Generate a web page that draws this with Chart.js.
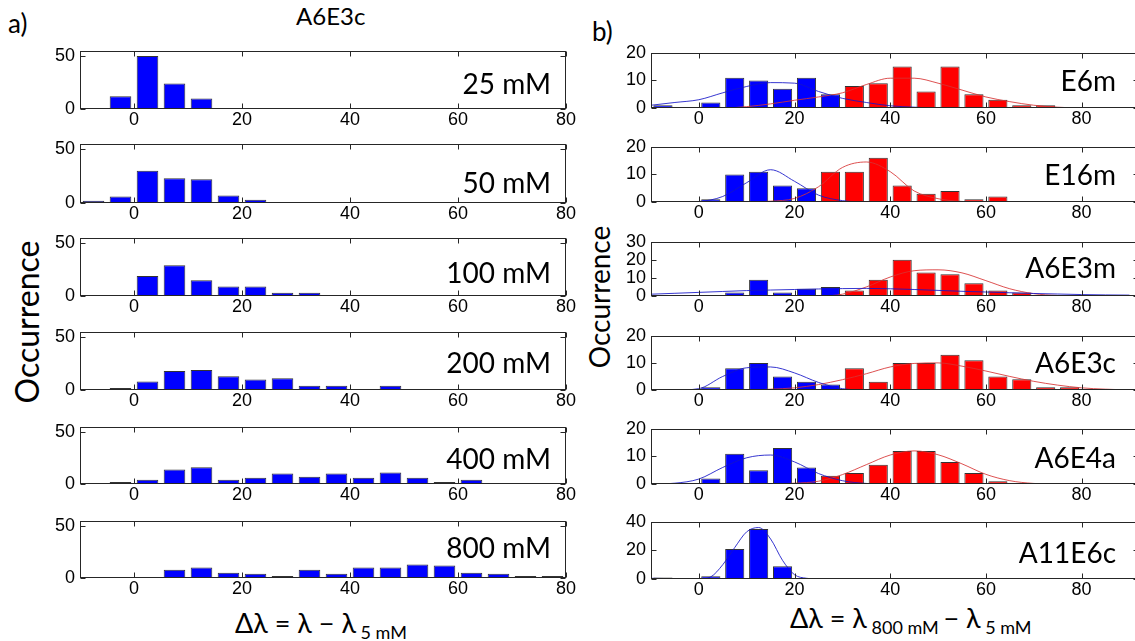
<!DOCTYPE html>
<html>
<head>
<meta charset="utf-8">
<script src="https://cdn.jsdelivr.net/npm/chart.js@4.4.0/dist/chart.umd.min.js"></script>
<style>
html, body { margin: 0; padding: 0; background: #fff; overflow: hidden; }
#fig { position: relative; width: 1135px; height: 641px; overflow: hidden; background: #fff; }
#fig canvas { position: absolute; }
.t { position: absolute; font-family: Lato, sans-serif; color: #000; white-space: nowrap; line-height: 1; }
.lab { font-size: 28px; transform: translate(-100%, -50%); }
sub { font-size: 18px; vertical-align: -6px; }
</style>
</head>
<body>
<div id="fig">
  <div class="t" style="left:8px;top:10px;font-size:26px;">a)</div>
  <div class="t" style="left:296px;top:4px;font-size:24px;">A6E3c</div>
  <div class="t" style="left:592px;top:18px;font-size:26px;">b)</div>
  <div class="t" style="left:27px;top:322px;font-size:32px;transform:translate(-50%,-50%) rotate(-90deg);">Occurrence</div>
  <div class="t" style="left:599px;top:297px;font-size:28px;transform:translate(-50%,-50%) rotate(-90deg);">Occurrence</div>
  <div class="t" style="left:235px;top:609px;font-size:27px;">Δλ = λ − λ<sub>&nbsp;5 mM</sub></div>
  <div class="t" style="left:790px;top:604px;font-size:27px;">Δλ = λ<sub>&nbsp;800 mM&nbsp;</sub>− λ<sub>&nbsp;5 mM</sub></div>
</div>
<script>
// left column: concentration series, 5 nm bins
var leftBins = [-7.5, -2.5, 2.5, 7.5, 12.5, 17.5, 22.5, 27.5, 32.5, 37.5, 42.5, 47.5, 52.5, 57.5, 62.5, 67.5, 72.5, 77.5];
var leftNames = ['25 mM', '50 mM', '100 mM', '200 mM', '400 mM', '800 mM'];
var c25  = [0, 12, 50, 24, 10, 0, 0, 0, 0, 0, 0, 0, 0, 0, 0, 0, 0, 0];
var c50  = [2, 6, 30, 23, 22, 7, 3, 1, 0, 0, 0, 0, 0, 0, 0, 0, 0, 0];
var c100 = [0.5, 0.5, 19, 29, 15, 9, 9, 3, 3, 0.5, 0.5, 0, 0, 0, 0, 0, 0, 0];
var c200 = [0, 2, 8, 18, 19, 13, 10, 11, 4, 4, 0.5, 4, 0, 0.5, 0, 0, 0, 0];
var c400 = [0, 2, 4, 14, 16, 4, 6, 10, 7, 10, 6, 11, 6, 2, 4, 0, 0, 0];
var c800 = [0, 0, 1, 8, 10, 5, 4, 2, 8, 4, 10, 10, 13, 12, 5, 4, 2, 2];

// right column: constructs, blue = first population, red = second
var rightBins = [-7.5, -2.5, 2.5, 7.5, 12.5, 17.5, 22.5, 27.5, 32.5, 37.5, 42.5, 47.5, 52.5, 57.5, 62.5, 67.5, 72.5, 77.5, 82.5, 87.5];
var rightNames = ['E6m', 'E16m', 'A6E3m', 'A6E3c', 'A6E4a', 'A11E6c'];
var e6mBlue    = [1, 0, 2, 11, 10, 7, 11, 5, 0, 0, 0, 0, 0, 0, 0, 0, 0, 0, 0, 0];
var e6mRed     = [0, 0, 0, 0, 0, 0, 0, 0, 8, 9, 15, 6, 15, 5, 3, 1, 1, 0.3, 0, 0];
var e16mBlue   = [0, 0.3, 1, 10, 11, 6, 5, 0, 0, 0, 0, 0, 0, 0, 0, 0, 0, 0, 0, 0];
var e16mRed    = [0, 0, 0, 0, 0, 0, 0, 11, 11, 16, 6, 3, 4, 1, 2, 0, 0, 0, 0, 0];
var a6e3mBlue  = [0, 0, 0, 2, 9, 2, 4, 5, 0, 0, 0, 0, 0, 0, 0, 0, 0, 0, 0, 0];
var a6e3mRed   = [0, 0, 0, 0, 0, 0, 0, 0, 3, 9, 20, 13, 12, 7, 3, 2, 0.5, 0.5, 0, 0];
var a6e3cBlue  = [0, 0.3, 1, 8, 10, 5, 3, 2, 0, 0, 0, 0, 0, 0, 0, 0, 0, 0, 0, 0];
var a6e3cRed   = [0, 0, 0, 0, 0, 0, 0, 0, 8, 3, 10, 10, 13, 11, 5, 4, 1, 1, 0, 0.3];
var a6e4aBlue  = [0, 0, 2, 11, 5, 13, 6, 0, 0, 0, 0, 0, 0, 0, 0, 0, 0, 0, 0, 0];
var a6e4aRed   = [0, 0, 0, 0, 0, 0, 0, 3, 4, 7, 12, 12, 8, 4, 1, 0, 0, 0, 0, 0];
var a11e6cBlue = [1, 0, 2, 21, 35, 9, 0.5, 0.5, 0, 0, 0, 0, 0, 0, 0, 0, 0, 0, 0, 0];

// fitted curves, read every 5 nm from -10 to 90
var fitX       = [-10, -5, 0, 5, 10, 15, 20, 25, 30, 35, 40, 45, 50, 55, 60, 65, 70, 75, 80, 85, 90];
var e6mFitB    = [1, 2, 3, 5.5, 7.8, 9.2, 9, 6, 3.5, 2, 0.8, 0.3, 0, 0, 0, 0, 0, 0, 0, 0, 0];
var e6mFitR    = [0, 0, 0, 0, 0.5, 1.5, 2.8, 4, 5.5, 8.5, 10.8, 10.8, 9, 6.5, 4, 2.3, 1, 0.3, 0, 0, 0];
var e16mFitB   = [0, 0, 0.2, 2, 7, 11.7, 7.5, 2.5, 0.5, 0, 0, 0, 0, 0, 0, 0, 0, 0, 0, 0, 0];
var e16mFitR   = [0, 0, 0, 0, 0, 0.3, 1.3, 5.5, 12.5, 14.5, 11, 4, 1.2, 0.2, 0, 0, 0, 0, 0, 0, 0];
var a6e3mFitB  = [1, 1.5, 2, 2.5, 3, 3.3, 3.6, 3.9, 4.1, 4.2, 4, 3.6, 3.1, 2.6, 2.2, 1.8, 1.4, 1.1, 0.8, 0.6, 0.5];
var a6e3mFitR  = [0, 0, 0, 0, 0, 0, 0, 0, 1, 5, 10.5, 14, 14.5, 12.8, 8.5, 4, 1.3, 0.3, 0, 0, 0];
var a6e3cFitB  = [0, 0, 0.5, 5, 8.2, 8.5, 6.3, 2.8, 0.5, 0, 0, 0, 0, 0, 0, 0, 0, 0, 0, 0, 0];
var a6e3cFitR  = [0, 0, 0, 0, 0, 0.3, 0.8, 2, 3.8, 6, 8.5, 9.8, 10, 8.8, 7, 5, 3.2, 1.8, 0.8, 0.3, 0];
var a6e4aFitB  = [0, 0.3, 1.8, 6, 9.5, 10.5, 8, 3.8, 1.2, 0.2, 0, 0, 0, 0, 0, 0, 0, 0, 0, 0, 0];
var a6e4aFitR  = [0, 0, 0, 0, 0, 0, 0.3, 1, 3.4, 7, 10.5, 12, 10.6, 7.3, 3.5, 1.2, 0.2, 0, 0, 0, 0];
var a11FitX    = [-10, -5, 0, 2.5, 5, 7.5, 10, 12.5, 15, 17.5, 20, 22.5, 25, 30, 40, 50, 60, 70, 80, 90];
var a11FitB    = [0.5, 0.2, 0, 1.5, 10, 22, 33, 36, 28, 13, 3, 0.5, 0, 0, 0, 0, 0, 0, 0, 0];

var BLUE = '#0000ff', RED = '#ff0000', EDGE = '#333333';
var LINE_B = 'rgba(20,20,200,0.85)', LINE_R = 'rgba(215,50,50,0.85)';

var frame = {
  id: 'frame',
  afterDraw: function (c) {
    var a = c.chartArea, ctx = c.ctx;
    var L = Math.round(a.left) + 0.5, T = Math.round(a.top) + 0.5;
    var R = Math.round(a.right) - 0.5, B = Math.round(a.bottom) - 0.5;
    ctx.save();
    ctx.strokeStyle = '#262626';
    ctx.lineWidth = 1;
    ctx.strokeRect(L, T, R - L, B - T);
    ctx.beginPath();
    c.scales.x.ticks.forEach(function (t) {
      var p = Math.round(c.scales.x.getPixelForValue(t.value)) + 0.5;
      ctx.moveTo(p, B); ctx.lineTo(p, B - 5);
      ctx.moveTo(p, T); ctx.lineTo(p, T + 5);
    });
    c.scales.y.ticks.forEach(function (t) {
      var p = Math.round(c.scales.y.getPixelForValue(t.value)) + 0.5;
      ctx.moveTo(L, p); ctx.lineTo(L + 5, p);
      ctx.moveTo(R, p); ctx.lineTo(R - 5, p);
    });
    ctx.stroke();
    ctx.restore();
  }
};

function bars(bins, vals, color) {
  var pts = [];
  bins.forEach(function (x, i) { if (vals[i] > 0) pts.push({ x: x, y: vals[i] }); });
  return {
    type: 'bar', data: pts, backgroundColor: color, borderColor: EDGE, borderWidth: 1,
    borderSkipped: 'start', barPercentage: 0.8, categoryPercentage: 1, grouped: false, order: 2
  };
}

function fit(xs, ys, color) {
  return {
    type: 'line', data: xs.map(function (x, i) { return { x: x, y: ys[i] }; }),
    borderColor: color, borderWidth: 1, pointRadius: 0, tension: 0.4,
    cubicInterpolationMode: 'monotone', fill: false, order: 0
  };
}

var fig = document.getElementById('fig');
var PADL = 55, PADT = 12, PADR = 15, PADB = 26;

function panel(area, xmin, xmax, ymax, ystep, datasets, label) {
  var cv = document.createElement('canvas');
  var w = Math.round(area.r - area.l) + PADL + PADR;
  var h = Math.round(area.b - area.t) + PADT + PADB;
  cv.width = w; cv.height = h;
  cv.style.left = (Math.round(area.l) - PADL) + 'px';
  cv.style.top = (Math.round(area.t) - PADT) + 'px';
  cv.style.width = w + 'px'; cv.style.height = h + 'px';
  fig.appendChild(cv);
  var tickFont = { family: "'Liberation Sans', Arial, sans-serif", size: 18 };
  new Chart(cv.getContext('2d'), {
    type: 'bar',
    data: { datasets: datasets },
    options: {
      responsive: false, animation: false, devicePixelRatio: 1,
      layout: { padding: { top: PADT, right: PADR, left: 0, bottom: 0 } },
      plugins: { legend: { display: false }, tooltip: { enabled: false } },
      scales: {
        x: {
          type: 'linear', min: xmin, max: xmax, offset: false,
          grid: { display: false, drawTicks: false }, border: { display: false },
          ticks: { stepSize: 20, includeBounds: false, padding: 0, color: '#000', font: tickFont, maxRotation: 0, autoSkip: false },
          afterFit: function (s) { s.height = PADB; }
        },
        y: {
          min: 0, max: ymax,
          grid: { display: false, drawTicks: false }, border: { display: false },
          ticks: { stepSize: ystep, includeBounds: false, autoSkip: false, padding: 5, color: '#000', font: tickFont },
          afterFit: function (s) { s.width = PADL; }
        }
      }
    },
    plugins: [frame]
  });
  var d = document.createElement('div');
  d.className = 't lab';
  d.style.left = label.x + 'px';
  d.style.top = label.y + 'px';
  d.textContent = label.text;
  fig.appendChild(d);
}

// left column
var leftAreas = [
  { l: 80, r: 566, t: 47, b: 109 }, { l: 80, r: 566, t: 140, b: 203 }, { l: 80, r: 566, t: 234, b: 296 },
  { l: 80, r: 566, t: 328, b: 390 }, { l: 80, r: 566, t: 423, b: 484 }, { l: 80, r: 566, t: 517, b: 578 }
];
var leftSets = [c25, c50, c100, c200, c400, c800];
var leftLabY = [83, 182, 272, 362, 458, 547];
leftSets.forEach(function (vals, i) {
  panel(leftAreas[i], -10, 80, 55, 50, [bars(leftBins, vals, BLUE)],
    { x: 551, y: leftLabY[i], text: leftNames[i] });
});

// right column
var rightAreas = [
  { l: 651, r: 1139, t: 49, b: 108 }, { l: 651, r: 1139, t: 143, b: 202 }, { l: 651, r: 1139, t: 238, b: 296 },
  { l: 651, r: 1139, t: 332, b: 390 }, { l: 651, r: 1139, t: 425, b: 484 }, { l: 651, r: 1139, t: 518, b: 579 }
];
var rightMax = [20, 20, 30, 20, 20, 40];
var rightStep = [10, 10, 10, 10, 10, 20];
var rightLabY = [80, 174, 267, 362, 457, 552];
var rightSets = [
  [bars(rightBins, e6mBlue, BLUE), bars(rightBins, e6mRed, RED), fit(fitX, e6mFitB, LINE_B), fit(fitX, e6mFitR, LINE_R)],
  [bars(rightBins, e16mBlue, BLUE), bars(rightBins, e16mRed, RED), fit(fitX, e16mFitB, LINE_B), fit(fitX, e16mFitR, LINE_R)],
  [bars(rightBins, a6e3mBlue, BLUE), bars(rightBins, a6e3mRed, RED), fit(fitX, a6e3mFitB, LINE_B), fit(fitX, a6e3mFitR, LINE_R)],
  [bars(rightBins, a6e3cBlue, BLUE), bars(rightBins, a6e3cRed, RED), fit(fitX, a6e3cFitB, LINE_B), fit(fitX, a6e3cFitR, LINE_R)],
  [bars(rightBins, a6e4aBlue, BLUE), bars(rightBins, a6e4aRed, RED), fit(fitX, a6e4aFitB, LINE_B), fit(fitX, a6e4aFitR, LINE_R)],
  [bars(rightBins, a11e6cBlue, BLUE), fit(a11FitX, a11FitB, LINE_B)]
];
rightSets.forEach(function (ds, i) {
  panel(rightAreas[i], -10, 92, rightMax[i], rightStep[i], ds,
    { x: 1116, y: rightLabY[i], text: rightNames[i] });
});
</script>
</body>
</html>
